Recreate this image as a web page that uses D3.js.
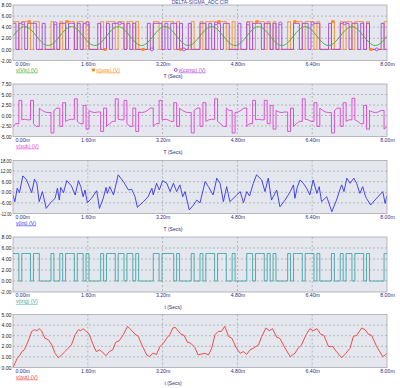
<!DOCTYPE html>
<html>
<head>
<meta charset="utf-8">
<script src="https://cdn.jsdelivr.net/npm/d3@7"></script>
<style>
  body { margin: 0; background: #fff; }
  text { font-family: "Liberation Sans", Arial, sans-serif; }
</style>
</head>
<body>
<svg id="chart" width="400" height="388"></svg>
<script>
// ---- data (time in ms) ----
const timeTicks = [0, 1.6, 3.2, 4.8, 6.4, 8.0];
const timeTickLabels = ["0.00m", "1.60m", "3.20m", "4.80m", "6.40m", "8.00m"];

const ticks1 = [8, 6, 4, 2, 0, -2];
const labels1 = ["8.00", "6.00", "4.00", "2.00", "0.00", "-2.00"];
const ticks2 = [7.5, 5, 2.5, 0, -2.5, -5];
const labels2 = ["7.50", "5.00", "2.50", "0.00", "-2.50", "-5.00"];
const ticks3 = [18, 12, 6, 0, -6, -12];
const labels3 = ["18.00", "12.00", "6.00", "0.00", "-6.00", "-12.00"];
const ticks4 = [8, 6, 4, 2, 0, -2];
const labels4 = ["8.00", "6.00", "4.00", "2.00", "0.00", "-2.00"];
const ticks5 = [5, 4, 3, 2, 1, 0];
const labels5 = ["5.00", "4.00", "3.00", "2.00", "1.00", "0.00"];

// v(Vin), one sample every 0.125 ms
const vinStepMs = 0.125;
const vinValues = [
  2.40, 3.60, 4.10, 3.60, 2.40, 1.20, 0.70, 1.20,
  2.40, 3.60, 4.10, 3.60, 2.40, 1.20, 0.70, 1.20,
  2.40, 3.60, 4.10, 3.60, 2.40, 1.20, 0.70, 1.20,
  2.40, 3.60, 4.10, 3.60, 2.40, 1.20, 0.70, 1.20,
  2.40, 3.60, 4.10, 3.60, 2.40, 1.20, 0.70, 1.20,
  2.40, 3.60, 4.10, 3.60, 2.40, 1.20, 0.70, 1.20,
  2.40, 3.60, 4.10, 3.60, 2.40, 1.20, 0.70, 1.20,
  2.40, 3.60, 4.10, 3.60, 2.40, 1.20, 0.70, 1.20,
  2.40
];

// clocked bit streams, one bit every 0.0625 ms
const slotMs = 0.0625;
const powHigh = 5.0;
const compHigh = 4.7;
const trigHigh = 5.0;
const powBits = [
  1,1,0,1,1,1,0,1,1,0,0,0,0,1,0,0,
  1,0,1,1,1,0,1,1,0,1,0,0,0,0,1,0,
  1,1,1,0,1,1,0,1,1,0,1,0,0,0,0,0,
  1,1,0,1,1,1,1,0,1,0,0,0,0,1,0,0,
  1,0,1,1,1,0,1,1,1,0,0,1,0,0,0,0,
  1,1,0,1,1,1,0,1,0,1,0,0,0,0,1,0,
  1,1,1,0,1,1,1,0,1,0,0,0,0,1,0,0,
  1,0,1,1,0,1,1,1,0,1,0,0,0,0,0,1
];
const compBits = [
  1,0,1,1,0,1,1,1,0,0,1,0,0,0,1,0,
  1,1,0,1,1,0,1,0,1,1,0,0,0,1,0,0,
  1,0,1,1,1,1,0,1,0,1,0,0,0,0,1,0,
  1,1,1,0,1,0,1,1,0,1,0,0,1,0,0,0,
  1,1,0,1,0,1,1,0,1,1,0,0,0,1,0,0,
  1,0,1,1,1,0,1,1,0,1,0,1,0,0,0,0,
  1,1,0,1,1,0,1,1,1,0,0,0,1,0,0,0,
  1,1,1,0,1,1,0,1,0,1,0,0,0,0,1,0
];
const trigBits = powBits;

// v(sub) at the start of every slot (last value closes the trace at 8 ms)
const subValues = [
  -2.60,-1.95, 3.60,-1.03,-0.90,-1.03, 3.60,-1.95,-2.60, 1.75, 1.20, 0.83, 0.70,-4.17, 1.20, 1.75,
  -2.60, 3.05,-1.40,-1.03,-0.90, 3.97,-1.40,-1.95, 2.40,-3.25, 1.20, 0.83, 0.70, 0.83,-3.80, 1.75,
  -2.60,-1.95,-1.40, 3.97,-0.90,-1.03, 3.60,-1.95,-2.60, 1.75,-3.80, 0.83, 0.70, 0.83, 1.20, 1.75,
  -2.60,-1.95, 3.60,-1.03,-0.90,-1.03,-1.40, 3.05,-2.60, 1.75, 1.20, 0.83, 0.70,-4.17, 1.20, 1.75,
  -2.60, 3.05,-1.40,-1.03,-0.90, 3.97,-1.40,-1.95,-2.60, 1.75, 1.20,-4.17, 0.70, 0.83, 1.20, 1.75,
  -2.60,-1.95, 3.60,-1.03,-0.90,-1.03, 3.60,-1.95, 2.40,-3.25, 1.20, 0.83, 0.70, 0.83,-3.80, 1.75,
  -2.60,-1.95,-1.40, 3.97,-0.90,-1.03,-1.40, 3.05,-2.60, 1.75, 1.20, 0.83, 0.70,-4.17, 1.20, 1.75,
  -2.60, 3.05,-1.40,-1.03, 4.10,-1.03,-1.40,-1.95, 2.40,-3.25, 1.20, 0.83, 0.70, 0.83, 1.20,-3.25,
  -2.60
];

// v(int)
const intTimes = [0.00,0.04,0.09,0.14,0.21,0.29,0.40,0.46,0.51,0.56,0.63,0.71,0.79,0.90,0.95,0.99,1.02,1.08,1.15,1.25,
  1.33,1.40,1.45,1.50,1.54,1.59,1.68,1.79,1.85,1.93,1.99,2.02,2.07,2.15,2.25,2.36,2.47,2.54,2.61,2.66,
  2.79,2.89,2.97,3.00,3.07,3.13,3.20,3.29,3.36,3.43,3.50,3.57,3.63,3.68,3.77,3.86,3.93,4.00,4.11,4.18,
  4.28,4.36,4.43,4.50,4.57,4.64,4.86,4.93,5.00,5.06,5.14,5.21,5.32,5.39,5.46,5.53,5.64,5.71,5.82,5.93,
  6.00,6.03,6.08,6.14,6.21,6.28,6.35,6.42,6.50,6.55,6.60,6.71,6.82,6.92,6.99,7.03,7.08,7.14,7.21,7.29,
  7.35,7.42,7.48,7.53,7.56,7.65,7.74,7.91,7.96,8.00];
const intValues = [-1.5,-5.3,2.3,-0.2,9.3,7.0,-0.2,7.4,5.1,-5.3,0.4,-9.1,-6.3,-3.4,2.3,-4.4,2.8,-0.2,6.6,3.6,
  -1.5,6.6,3.2,-2.5,1.3,-5.9,-3.4,0.9,-9.1,-3.4,2.8,-0.6,3.2,-1.5,9.9,6.1,1.3,1.7,-2.5,-8.5,
  -5.3,-2.5,2.3,-1.5,5.1,1.3,6.6,5.1,0.4,5.1,0.4,4.2,-2.5,0.4,-10.0,-7.2,-4.4,-6.0,6.1,3.2,
  -1.5,8.0,5.1,-5.3,3.2,-5.3,0.4,-5.9,0.4,-2.1,5.1,9.9,7.0,0.4,8.0,-4.4,1.3,-8.2,-4.4,0.4,
  4.2,-3.4,2.8,7.0,5.1,2.3,-1.5,7.0,-0.6,3.2,-5.3,-2.5,-11.0,-4.4,1.3,4.2,0.4,8.0,5.1,8.0,
  5.1,-0.6,3.2,-1.5,-3.4,-7.2,-4.4,0.4,-6.3,-1.9];

// v(out)
const outTimes = [0.00,0.04,0.09,0.15,0.19,0.24,0.29,0.35,0.40,0.46,0.51,0.56,0.61,0.68,0.76,0.83,0.90,0.97,1.04,1.11,
  1.18,1.25,1.33,1.40,1.45,1.50,1.58,1.63,1.70,1.78,1.85,1.90,1.99,2.06,2.13,2.20,2.27,2.36,2.45,2.52,
  2.61,2.68,2.75,2.86,2.92,2.99,3.07,3.14,3.22,3.29,3.36,3.42,3.47,3.51,3.59,3.66,3.73,3.80,3.89,3.96,
  4.00,4.11,4.18,4.25,4.32,4.39,4.46,4.53,4.61,4.68,4.78,4.86,4.93,5.00,5.07,5.14,5.25,5.32,5.41,5.48,
  5.55,5.64,5.71,5.82,5.93,6.03,6.10,6.17,6.27,6.35,6.42,6.50,6.58,6.65,6.75,6.84,6.92,7.03,7.12,7.21,
  7.28,7.35,7.46,7.53,7.60,7.67,7.78,7.91,7.96,8.00];
const outValues = [0,0.38,0.86,1.18,1.5,1.66,2.13,2.77,3.41,3.57,3.47,3.66,3.47,2.77,2.61,2.13,1.34,0.92,1.18,1.5,
  1.82,2.13,3.09,3.57,3.47,3.66,3.34,3.15,2.29,1.5,1.66,1.5,1.11,1.5,1.66,2.39,2.52,3.09,3.89,3.57,
  3.15,2.93,2.2,1.18,1.02,1.34,1.24,1.97,2.29,2.77,3.15,3.73,3.79,3.57,3.15,3.03,2.39,2.29,1.88,1.18,
  1.24,1.34,1.18,1.82,3.09,3.41,3.41,3.89,2.93,2.77,1.82,1.34,1.5,1.24,1.66,1.82,2.13,2.93,3.73,3.47,
  3.66,2.86,2.74,1.82,1.02,1.34,1.82,2.13,3.09,3.66,3.47,3.66,3.15,3.03,1.97,1.97,1.5,0.92,1.34,1.82,
  2.93,3.03,3.73,3.57,3.15,3.03,1.97,1.02,1.18,1.34];

// ---- drawing ----
const svg = d3.select("#chart");
const x = d3.scaleLinear().domain([0, 8]).range([13, 387]);

const colors = {
  vin: "#3fae2f", pow: "#ff8a24", comp: "#a343d9", sub: "#e03fd2",
  int: "#3434ee", trig: "#3fa6a6", out: "#f03a3a"
};

const panels = [
  { top: 5, bottom: 60.5, ticks: ticks1, labels: labels1, xTitle: "T (Secs)",
    legend: [{ text: "v(Vin) (V)", color: colors.vin, x: 16 },
             { text: "v(pow) (V)", color: colors.pow, x: 96, marker: "square" },
             { text: "v(comp) (V)", color: colors.comp, x: 178.5, marker: "circle" }] },
  { top: 84, bottom: 136.5, ticks: ticks2, labels: labels2, xTitle: "T (Secs)",
    legend: [{ text: "v(sub) (V)", color: colors.sub, x: 16 }] },
  { top: 160.5, bottom: 213.5, ticks: ticks3, labels: labels3, xTitle: "T (Secs)",
    legend: [{ text: "v(int) (V)", color: colors.int, x: 16 }] },
  { top: 237, bottom: 292, ticks: ticks4, labels: labels4, xTitle: "t (Secs)",
    legend: [{ text: "v(trig) (V)", color: colors.trig, x: 16 }] },
  { top: 314.5, bottom: 367.5, ticks: ticks5, labels: labels5, xTitle: "t (Secs)",
    legend: [{ text: "v(out) (V)", color: colors.out, x: 16 }] }
];

function drawMarker(g, kind, cx, cy, color) {
  if (kind === "square") {
    g.append("rect").attr("x", cx - 1.5).attr("y", cy - 1.5).attr("width", 3).attr("height", 3)
      .attr("fill", color);
  } else {
    g.append("circle").attr("cx", cx).attr("cy", cy).attr("r", 1.5)
      .attr("fill", "#e9d6f4").attr("stroke", color).attr("stroke-width", 0.8);
  }
}

function drawFrame(p, i) {
  const y = d3.scaleLinear()
    .domain([d3.min(p.ticks), d3.max(p.ticks)])
    .range([p.bottom, p.top]);
  const g = svg.append("g").attr("class", "panel" + i);

  g.append("rect")
    .attr("x", x(0)).attr("y", p.top)
    .attr("width", x(8) - x(0)).attr("height", p.bottom - p.top)
    .attr("fill", "#e5e7ef");

  // grid
  g.selectAll(".hgrid").data(p.ticks.slice(1, -1)).join("line")
    .attr("x1", x(0)).attr("x2", x(8))
    .attr("y1", d => y(d)).attr("y2", d => y(d))
    .attr("stroke", "#a2a2a8").attr("stroke-width", 0.7).attr("stroke-dasharray", "2,2");
  g.selectAll(".vgrid").data(timeTicks.slice(1, -1)).join("line")
    .attr("x1", d => x(d)).attr("x2", d => x(d))
    .attr("y1", p.top).attr("y2", p.bottom)
    .attr("stroke", "#a2a2a8").attr("stroke-width", 0.7).attr("stroke-dasharray", "2,2");

  // y labels (squeezed where a long label would run off the left edge)
  const yAxis = g.append("g").attr("transform", `translate(${x(0)},0)`)
    .call(d3.axisLeft(y).tickValues(p.ticks).tickFormat((d, k) => p.labels[k]).tickSize(0).tickPadding(1.5));
  yAxis.select(".domain").remove();
  yAxis.selectAll("text").attr("font-size", 5.2).attr("fill", "#222")
    .attr("font-family", "Liberation Sans, Arial, sans-serif")
    .each(function () {
      const w = this.getComputedTextLength();
      if (w > 11) d3.select(this).attr("textLength", 11).attr("lengthAdjust", "spacingAndGlyphs");
    });

  // x labels
  const xAxis = g.append("g").attr("transform", `translate(0,${p.bottom})`)
    .call(d3.axisBottom(x).tickValues(timeTicks).tickFormat((d, k) => timeTickLabels[k]).tickSize(0).tickPadding(1.6));
  xAxis.select(".domain").remove();
  xAxis.selectAll("text").attr("font-size", 5.2).attr("fill", "#2e2e8c")
    .attr("font-family", "Liberation Sans, Arial, sans-serif");
  xAxis.selectAll("text").filter((d, k) => k === 0).attr("text-anchor", "start").attr("x", 2);

  // legend
  p.legend.forEach(item => {
    const t = g.append("text")
      .attr("x", item.x).attr("y", p.bottom + 11.2)
      .attr("font-size", 5.2).attr("fill", item.color)
      .text(item.text);
    const w = t.node().getComputedTextLength();
    g.append("line")
      .attr("x1", item.x).attr("x2", item.x + w)
      .attr("y1", p.bottom + 12.3).attr("y2", p.bottom + 12.3)
      .attr("stroke", item.color).attr("stroke-width", 0.6);
    if (item.marker) drawMarker(g, item.marker, item.x - 2.7, p.bottom + 9.4, item.color);
  });

  g.append("text")
    .attr("x", 173).attr("y", p.bottom + 17.4)
    .attr("text-anchor", "middle").attr("font-size", 5)
    .attr("fill", "#2e2e6c")
    .text(p.xTitle);

  return { g, y };
}

function bitPoints(bits, high) {
  const pts = bits.map((b, k) => [k * slotMs, b * high]);
  pts.push([bits.length * slotMs, bits[bits.length - 1] * high]);
  return pts;
}

function plotClip(g, p, id) {
  g.append("clipPath").attr("id", id).append("rect")
    .attr("x", x(0)).attr("y", p.top - 0.5)
    .attr("width", x(8) - x(0)).attr("height", p.bottom - p.top + 1);
  return g.append("g").attr("clip-path", `url(#${id})`);
}

const frames = panels.map(drawFrame);

// panel 1
{
  const { g, y } = frames[0];
  const c = plotClip(g, panels[0], "clip0");
  const step = d3.line().x(d => x(d[0])).y(d => y(d[1])).curve(d3.curveStepAfter);

  const powPts = bitPoints(powBits, powHigh);
  c.append("path").attr("d", step(powPts))
    .attr("fill", "none").attr("stroke", colors.pow).attr("stroke-width", 0.9);
  const compPts = bitPoints(compBits, compHigh);
  c.append("path").attr("d", step(compPts))
    .attr("fill", "none").attr("stroke", colors.comp).attr("stroke-width", 0.9);

  const vinLine = d3.line()
    .x((d, k) => x(k * vinStepMs)).y(d => y(d))
    .curve(d3.curveNatural);
  c.append("path").attr("d", vinLine(vinValues))
    .attr("fill", "none").attr("stroke", colors.vin).attr("stroke-width", 0.9);

  powBits.forEach((b, k) => {
    if (k % 13 === 5) drawMarker(c, "square", x((k + 0.5) * slotMs), y(b * powHigh), colors.pow);
  });
  compBits.forEach((b, k) => {
    if (k % 11 === 3) drawMarker(c, "circle", x((k + 0.5) * slotMs), y(b * compHigh), colors.comp);
  });
}

// panel 2: v(sub), vertical jumps where the feedback bit flips
{
  const { g, y } = frames[1];
  const c = plotClip(g, panels[1], "clip1");
  const pts = [];
  subValues.forEach((v, k) => {
    pts.push([k * slotMs, v]);
    const next = subValues[k + 1];
    if (next !== undefined && Math.abs(next - v) > 2.5) pts.push([(k + 1) * slotMs, v]);
  });
  const line = d3.line().x(d => x(d[0])).y(d => y(d[1]));
  c.append("path").attr("d", line(pts))
    .attr("fill", "none").attr("stroke", colors.sub).attr("stroke-width", 0.9);
}

// panel 3: v(int)
{
  const { g, y } = frames[2];
  const c = plotClip(g, panels[2], "clip2");
  const line = d3.line().x((d, k) => x(intTimes[k])).y(d => y(d));
  c.append("path").attr("d", line(intValues))
    .attr("fill", "none").attr("stroke", colors.int).attr("stroke-width", 0.9);
}

// panel 4: v(trig)
{
  const { g, y } = frames[3];
  const c = plotClip(g, panels[3], "clip3");
  const step = d3.line().x(d => x(d[0])).y(d => y(d[1])).curve(d3.curveStepAfter);
  c.append("path").attr("d", step(bitPoints(trigBits, trigHigh)))
    .attr("fill", "none").attr("stroke", colors.trig).attr("stroke-width", 0.9);
}

// panel 5: v(out)
{
  const { g, y } = frames[4];
  const c = plotClip(g, panels[4], "clip4");
  const line = d3.line().x((d, k) => x(outTimes[k])).y(d => y(d));
  c.append("path").attr("d", line(outValues))
    .attr("fill", "none").attr("stroke", colors.out).attr("stroke-width", 0.9);
}

// frames on top
panels.forEach(p => {
  svg.append("rect")
    .attr("x", x(0)).attr("y", p.top)
    .attr("width", x(8) - x(0)).attr("height", p.bottom - p.top)
    .attr("fill", "none").attr("stroke", "#a9a9ae").attr("stroke-width", 0.8);
});

svg.append("text")
  .attr("x", 200).attr("y", 4.4)
  .attr("text-anchor", "middle").attr("font-size", 5)
  .attr("fill", "#4646a2")
  .text("DELTA-SIGMA_ADC.CIR");
</script>
</body>
</html>
